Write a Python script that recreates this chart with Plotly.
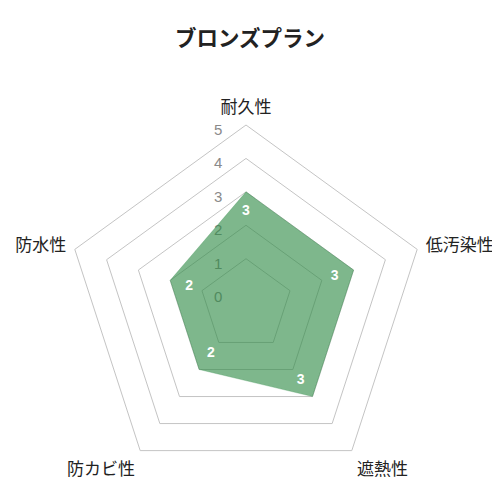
import plotly.graph_objects as go

title = "ブロンズプラン"
categories = ["耐久性", "低汚染性", "遮熱性", "防カビ性", "防水性"]
scores = [3, 3, 3, 2, 2]
tick_values = [0, 1, 2, 3, 4, 5]

r_min = -0.385
r_max = 5
label_shift = 0.6   # data labels sit a bit inside each vertex
tick_drop = 0.15    # radial tick labels sit just under their ring

jp_font = "Noto Sans CJK JP"
num_font = "Liberation Sans, Arial"

fig = go.Figure()

# bottom subplot: only the radial tick labels (so they sit under the fill)
fig.add_trace(go.Scatterpolar(
    r=[r_max], theta=[categories[0]], mode="markers",
    marker=dict(opacity=0), hoverinfo="skip", showlegend=False,
    subplot="polar",
))

# top subplot: the filled polygon and the data labels
fig.add_trace(go.Scatterpolar(
    r=scores + scores[:1],
    theta=categories + categories[:1],
    mode="lines",
    fill="toself",
    fillcolor="rgba(46,139,70,0.62)",
    line=dict(color="rgba(46,139,70,0.5)", width=0.5),
    showlegend=False,
    subplot="polar2",
))
fig.add_trace(go.Scatterpolar(
    r=[v - label_shift for v in scores],
    theta=categories,
    mode="text",
    text=[str(v) for v in scores],
    textfont=dict(family=num_font, size=14, color="white", weight="bold"),
    showlegend=False,
    subplot="polar2",
))

# the page body adds an 8px offset, so the domain is nudged up/left
dom = dict(x=[0.116, 0.836], y=[0.046, 0.766])

fig.update_layout(
    width=500, height=500,
    margin=dict(l=0, r=0, t=0, b=0),
    paper_bgcolor="white",
    title=dict(text=title, x=0.484, xanchor="center", y=0.94, yanchor="middle",
               font=dict(family=jp_font, size=21.5, color="#222", weight="bold")),
    polar=dict(
        domain=dom,
        bgcolor="rgba(0,0,0,0)",
        gridshape="linear",
        radialaxis=dict(range=[r_min + tick_drop, r_max + tick_drop], tickvals=tick_values,
                        showgrid=False, showline=False, angle=90,
                        side="counterclockwise", tickangle=90,
                        ticks="outside", ticklen=18, tickcolor="rgba(0,0,0,0)",
                        tickfont=dict(family=num_font, size=15, color="#8a8a8a")),
        angularaxis=dict(categoryarray=categories, categoryorder="array",
                         rotation=90, direction="clockwise",
                         showgrid=False, showline=False, showticklabels=False,
                         ticks=""),
    ),
    polar2=dict(
        domain=dom,
        bgcolor="rgba(0,0,0,0)",
        gridshape="linear",
        radialaxis=dict(range=[r_min, r_max], tickvals=tick_values[1:],
                        showgrid=True, gridcolor="#c4c4c4", gridwidth=1,
                        showline=False, ticks="", showticklabels=False,
                        angle=90, layer="below traces"),
        angularaxis=dict(categoryarray=categories, categoryorder="array",
                         rotation=90, direction="clockwise",
                         showgrid=False, showline=True, linecolor="#c4c4c4",
                         linewidth=1, layer="below traces",
                         ticks="outside", ticklen=5, tickcolor="rgba(0,0,0,0)",
                         tickfont=dict(family=jp_font, size=17, color="#222")),
    ),
)

fig.write_html("out.html")
